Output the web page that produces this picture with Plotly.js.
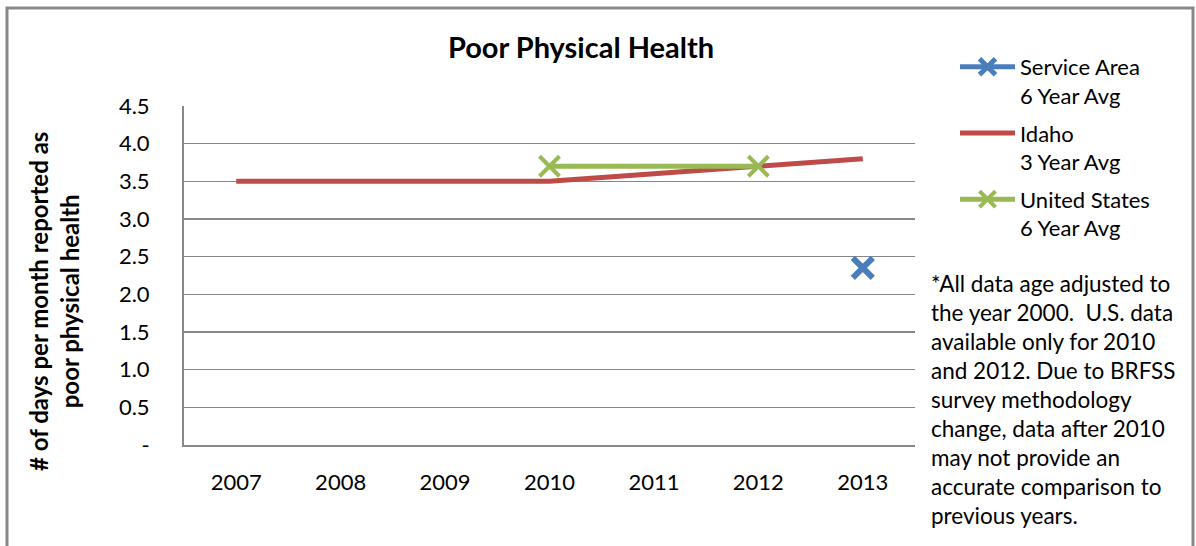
<!DOCTYPE html>
<html>
<head>
<meta charset="utf-8">
<script src="https://cdn.plot.ly/plotly-3.0.1.min.js"></script>
<style>html,body{margin:0;padding:0;background:#fff;}#chart{width:1196px;height:546px;}</style>
</head>
<body>
<div id="chart"></div>
<script>
const years = ['2007','2008','2009','2010','2011','2012','2013'];
const serviceArea = [null, null, null, null, null, null, 2.35];
const idaho = [3.5, 3.5, 3.5, 3.5, 3.6, 3.7, 3.8];
const unitedStates = [null, null, null, 3.7, null, 3.7, null];
const yTickVals = [0, 0.5, 1.0, 1.5, 2.0, 2.5, 3.0, 3.5, 4.0, 4.5];
const yTickText = ['-', '0.5', '1.0', '1.5', '2.0', '2.5', '3.0', '3.5', '4.0', '4.5'];
const seriesNames = ['Service Area<br>6 Year Avg', 'Idaho<br>3 Year Avg', 'United States<br>6 Year Avg'];
const chartTitle = 'Poor Physical Health';
const yTitle = '# of days per month reported as<br>poor physical health';
const noteLines = ['*All data age adjusted to', 'the year 2000.  U.S. data', 'available only for 2010',
  'and 2012. Due to BRFSS', 'survey methodology', 'change, data after 2010', 'may not provide an',
  'accurate comparison to', 'previous years.'];

const FONT = 'Lato, "Open Sans", sans-serif';
const PL = 184, PR = 915, PT = 106, PB = 445;
const PW = PR - PL, PH = PB - PT;
const px2x = p => (p - PL) / PW;
const px2y = p => (PB - p) / PH;

const traces = [
  {x: years, y: serviceArea, name: seriesNames[0], type: 'scatter', mode: 'lines+markers',
   legendgroup: 'a',
   line: {color: '#4a7ebb', width: 5},
   marker: {symbol: 'x-thin', size: 20, color: '#4a7ebb', line: {color: '#4a7ebb', width: 6}}},
  {x: years, y: idaho, name: seriesNames[1], type: 'scatter', mode: 'lines',
   legendgroup: 'b',
   line: {color: '#be4b48', width: 5}},
  {x: years, y: unitedStates, name: seriesNames[2], type: 'scatter', mode: 'lines+markers',
   connectgaps: true, legendgroup: 'c',
   line: {color: '#98b954', width: 5},
   marker: {symbol: 'x-thin', size: 20, color: '#98b954', line: {color: '#98b954', width: 4}}}
];

const annotations = [
  {text: '<b>' + yTitle + '</b>', xref: 'paper', yref: 'paper', x: px2x(54), y: px2y(302), xanchor: 'center', yanchor: 'middle',
   textangle: -90, showarrow: false, font: {family: FONT, size: 24, color: '#000'}, align: 'center'}
];
noteLines.forEach((t, i) => {
  annotations.push({text: t, xref: 'paper', yref: 'paper', x: px2x(929), y: px2y(283 + i * 29),
    xanchor: 'left', yanchor: 'middle', showarrow: false, align: 'left',
    font: {family: FONT, size: 22.5, color: '#000'}});
});

const layout = {
  width: 1196, height: 546,
  margin: {l: PL, r: 1196 - PR, t: PT, b: 546 - PB},
  paper_bgcolor: '#fff', plot_bgcolor: '#fff',
  font: {family: FONT, size: 20, color: '#000'},
  title: {text: '<b>' + chartTitle + '</b>', font: {family: FONT, size: 29, color: '#000'},
          x: 581/1196, xanchor: 'center', xref: 'container', y: 1 - 48/546, yanchor: 'middle', yref: 'container'},
  showlegend: true,
  legend: {xref: 'container', yref: 'container', x: 955/1196, y: 1 - 46/546, xanchor: 'left', yanchor: 'top',
           font: {family: FONT, size: 22, color: '#000'}, itemwidth: 55, tracegroupgap: 6, valign: 'top',
           bgcolor: 'rgba(0,0,0,0)', traceorder: 'grouped'},
  xaxis: {type: 'category', range: [-0.5, 6.5], showgrid: false, showline: true, linecolor: '#888', linewidth: 2,
          ticks: '', ticklabelstandoff: 17, tickfont: {family: FONT, size: 22, color: '#000'}, zeroline: false},
  yaxis: {range: [0, 4.5], tickvals: yTickVals, ticktext: yTickText, showgrid: true, gridcolor: '#888', gridwidth: 1.5,
          showline: true, linecolor: '#888', linewidth: 2, ticks: '', ticklabelstandoff: 28,
          tickfont: {family: FONT, size: 22, color: '#000'}, zeroline: false},
  annotations: annotations,
  shapes: [
    {type: 'rect', xref: 'paper', yref: 'paper', x0: px2x(7), x1: px2x(1193), y0: px2y(560), y1: px2y(8),
     line: {color: '#888', width: 3}, fillcolor: 'rgba(0,0,0,0)', layer: 'below'}
  ]
};

Plotly.newPlot('chart', traces, layout, {displayModeBar: false, staticPlot: true});
</script>
</body>
</html>
